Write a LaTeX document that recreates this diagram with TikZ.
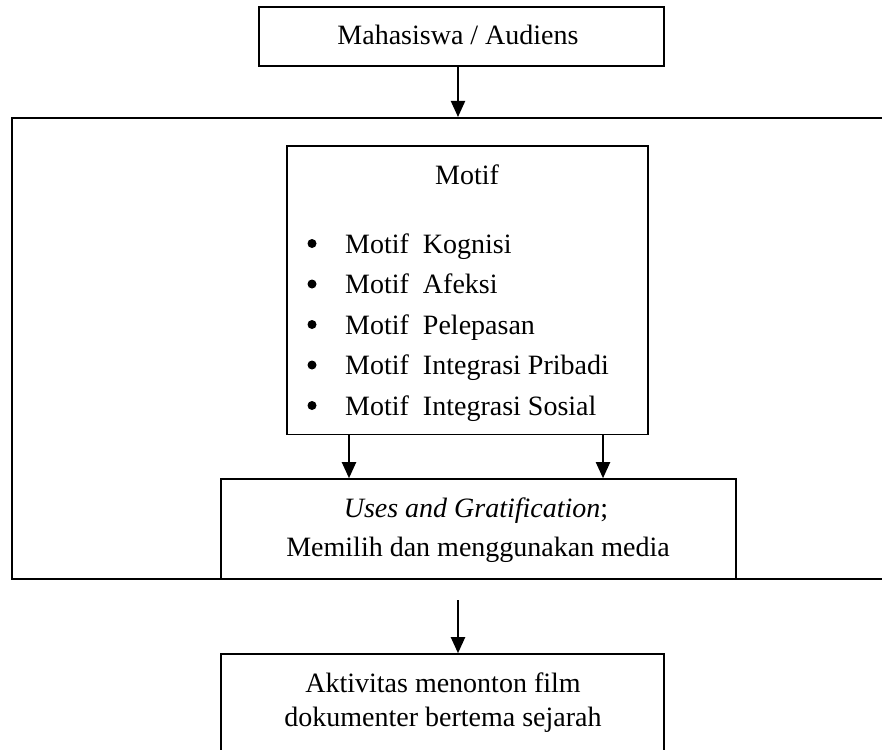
\documentclass[tikz,border=0pt]{standalone}
\usepackage{fontspec}
\setmainfont{Liberation Serif}
\usetikzlibrary{arrows.meta,calc}
\begin{document}
\begin{tikzpicture}[x=1pt,y=-1pt,
  box/.style={draw,line width=1.6pt,inner sep=0pt},
  arr/.style={line width=2pt,-{Triangle[length=16pt,width=14pt]}},
  txt/.style={font=\fontsize{28}{34}\selectfont,inner sep=0pt},
  bul/.style={circle,fill,inner sep=0pt,minimum size=9pt}]
\useasboundingbox (0,0) rectangle (882,749);
\clip (0,0) rectangle (882,749);
% boxes
\node[box,minimum width=405pt,minimum height=59pt] (top) at (461.5,36.5) {};
\node[box,line width=2pt,minimum width=888pt,minimum height=461pt] (frame) at (456,348.5) {};
\node[box,minimum width=361pt,minimum height=288.5pt] (motif) at (467.5,290.25) {};
\node[box,fill=white,minimum width=515pt,minimum height=100pt] (uses) at (478.5,529) {};
\node[box,minimum width=443pt,minimum height=126pt] (bot) at (442.5,717) {};
% texts
\node[txt,anchor=base] (t1) at (458,45) {Mahasiswa / Audiens};
\node[txt,anchor=base] (t2) at (467,184) {Motif};
\node[bul] (b1) at (312,243.5) {};
\node[bul] (b2) at (312,284) {};
\node[bul] (b3) at (312,324.5) {};
\node[bul] (b4) at (312,365) {};
\node[bul] (b5) at (312,405.5) {};
\node[txt,anchor=base west] (l1) at (345,253) {Motif\ \ Kognisi};
\node[txt,anchor=base west] (l2) at (345,293.5) {Motif\ \ Afeksi};
\node[txt,anchor=base west] (l3) at (345,334) {Motif\ \ Pelepasan};
\node[txt,anchor=base west] (l4) at (345,374.5) {Motif\ \ Integrasi Pribadi};
\node[txt,anchor=base west] (l5) at (345,415) {Motif\ \ Integrasi Sosial};
\node[txt,anchor=base] (u1) at (476,517) {\textit{Uses and Gratification};};
\node[txt,anchor=base] (u2) at (478,556) {Memilih dan menggunakan media};
\node[txt,anchor=base] (k1) at (443,692) {Aktivitas menonton film};
\node[txt,anchor=base] (k2) at (443,726) {dokumenter bertema sejarah};
% connectors
\coordinate (c1) at (458,66);
\draw[arr] (c1) -- (c1 |- frame.north);
\coordinate (x2) at (349,0);
\coordinate (x3) at (603,0);
\draw[arr] (motif.south -| x2) -- (uses.north -| x2);
\draw[arr] (motif.south -| x3) -- (uses.north -| x3);
\coordinate (c4) at (458,600);
\draw[arr] (c4) -- (c4 |- bot.north);
\end{tikzpicture}
\end{document}
